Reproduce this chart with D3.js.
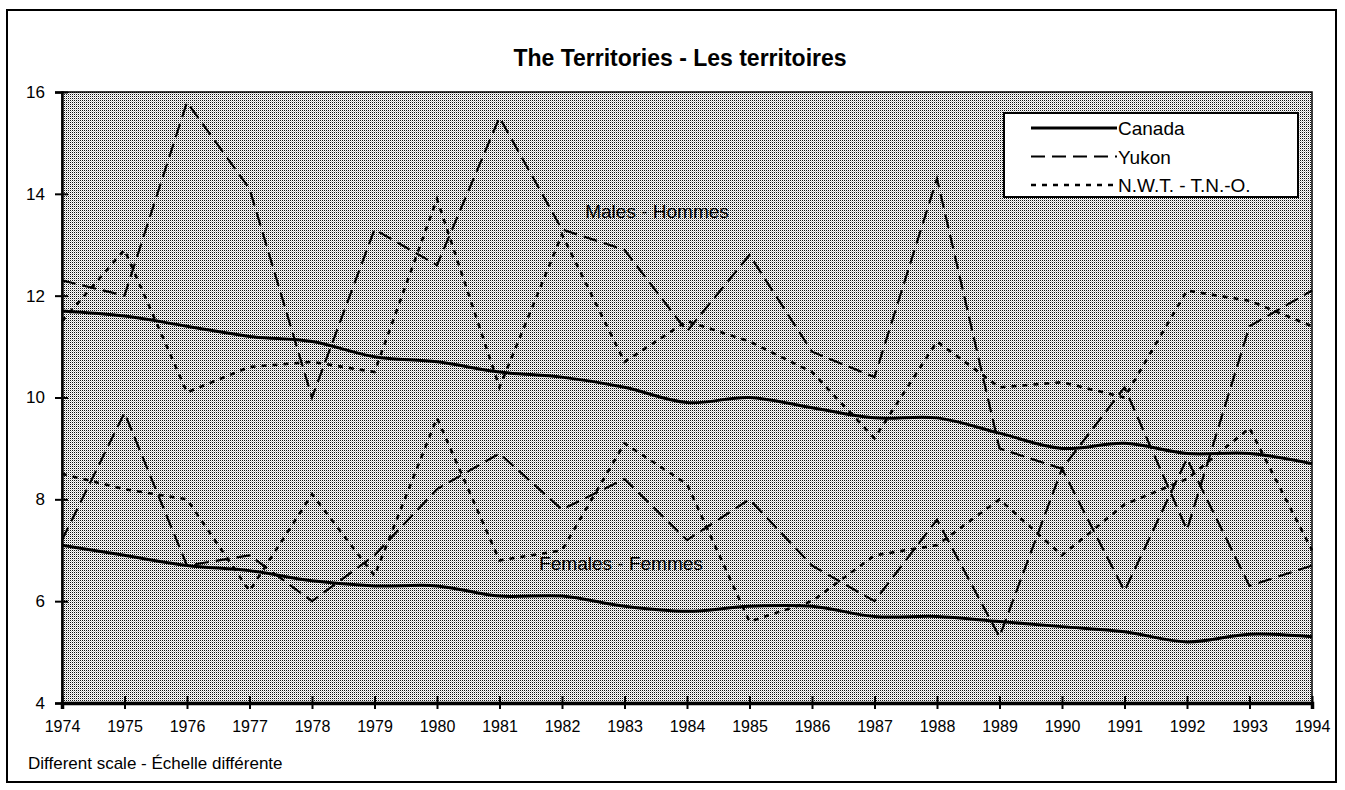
<!DOCTYPE html>
<html>
<head>
<meta charset="utf-8">
<script src="https://cdn.jsdelivr.net/npm/d3@7"></script>
<style>
  body { margin: 0; background: #fff; }
  svg text { font-family: "Liberation Sans", Arial, sans-serif; fill: #000; }
</style>
</head>
<body>
<div id="chart"></div>
<script>
// data
var years = [1974, 1975, 1976, 1977, 1978, 1979, 1980, 1981, 1982, 1983, 1984,
             1985, 1986, 1987, 1988, 1989, 1990, 1991, 1992, 1993, 1994];
var canadaMales   = [11.7, 11.6, 11.4, 11.2, 11.1, 10.8, 10.7, 10.5, 10.4, 10.2, 9.9,
                     10.0, 9.8, 9.6, 9.6, 9.3, 9.0, 9.1, 8.9, 8.9, 8.7];
var yukonMales    = [12.3, 12.0, 15.8, 14.1, 10.0, 13.3, 12.6, 15.5, 13.3, 12.9, 11.3,
                     12.8, 10.9, 10.4, 14.3, 9.0, 8.6, 10.2, 7.4, 11.4, 12.1];
var nwtMales      = [11.5, 12.9, 10.1, 10.6, 10.7, 10.5, 13.9, 10.2, 13.2, 10.7, 11.5,
                     11.1, 10.5, 9.2, 11.1, 10.2, 10.3, 10.0, 12.1, 11.9, 11.4];
var canadaFemales = [7.1, 6.9, 6.7, 6.6, 6.4, 6.3, 6.3, 6.1, 6.1, 5.9, 5.8,
                     5.9, 5.9, 5.7, 5.7, 5.6, 5.5, 5.4, 5.2, 5.35, 5.3];
var yukonFemales  = [7.2, 9.7, 6.7, 6.9, 6.0, 6.9, 8.2, 8.9, 7.8, 8.4, 7.2,
                     8.0, 6.7, 6.0, 7.6, 5.3, 8.6, 6.2, 8.8, 6.3, 6.7];
var nwtFemales    = [8.5, 8.2, 8.0, 6.2, 8.1, 6.5, 9.6, 6.8, 7.0, 9.1, 8.3,
                     5.6, 6.0, 6.9, 7.1, 8.0, 6.9, 7.9, 8.4, 9.4, 7.0];
var yTicks = [4, 6, 8, 10, 12, 14, 16];
var legendNames = ["Canada", "Yukon", "N.W.T. - T.N.-O."];

var W = 1345, H = 790;
var plotL = 62, plotR = 1312, plotT = 92, plotB = 703;

var svg = d3.select("#chart").append("svg")
    .attr("width", W)
    .attr("height", H);

// halftone look of the plot background
var defs = svg.append("defs");
var pat = defs.append("pattern")
    .attr("id", "dots")
    .attr("width", 2).attr("height", 2)
    .attr("patternUnits", "userSpaceOnUse");
pat.append("rect").attr("width", 2).attr("height", 2).attr("fill", "#fff");
pat.append("rect").attr("width", 1).attr("height", 1).attr("fill", "#111");
pat.append("rect").attr("x", 1).attr("y", 1).attr("width", 1).attr("height", 1).attr("fill", "#c4c4c4");

// outer frame
svg.append("rect")
    .attr("x", 7).attr("y", 10)
    .attr("width", 1329).attr("height", 772)
    .attr("fill", "none")
    .attr("stroke", "#000")
    .attr("stroke-width", 2);

var x = d3.scaleLinear().domain([1974, 1994]).range([plotL, plotR]);
var y = d3.scaleLinear().domain([4, 16]).range([plotB, plotT]);

svg.append("rect")
    .attr("x", plotL).attr("y", plotT)
    .attr("width", plotR - plotL).attr("height", plotB - plotT)
    .attr("fill", "url(#dots)")
    .attr("stroke", "#000")
    .attr("stroke-width", 1.5);

// title
svg.append("text")
    .attr("x", 680).attr("y", 66)
    .attr("text-anchor", "middle")
    .style("font-size", "23px")
    .style("font-weight", "bold")
    .text("The Territories - Les territoires");

// Y axis
var ya = d3.axisLeft(y).tickValues(yTicks).tickSize(7).tickPadding(10);
var gy = svg.append("g")
    .attr("transform", "translate(" + plotL + ",0)")
    .call(ya);
gy.select(".domain").attr("stroke-width", 2.5);
gy.selectAll(".tick line").attr("x1", 6).attr("stroke-width", 2);
gy.selectAll(".tick text").style("font-size", "17px");

// X axis
var xa = d3.axisBottom(x).tickValues(years).tickFormat(d3.format("d")).tickSize(6).tickPadding(12);
var gx = svg.append("g")
    .attr("transform", "translate(0," + plotB + ")")
    .call(xa);
gx.select(".domain").attr("stroke-width", 3.5);
gx.selectAll(".tick line").attr("y1", -7).attr("stroke-width", 2);
gx.selectAll(".tick text").style("font-size", "16px");

// series
var series = [
  {v: canadaMales,   dash: null,   w: 3,   curve: d3.curveCatmullRom},
  {v: yukonMales,    dash: "14,7", w: 2.2, curve: d3.curveLinear},
  {v: nwtMales,      dash: "5,6",  w: 2.6, curve: d3.curveLinear},
  {v: canadaFemales, dash: null,   w: 3,   curve: d3.curveCatmullRom},
  {v: yukonFemales,  dash: "14,7", w: 2.2, curve: d3.curveLinear},
  {v: nwtFemales,    dash: "5,6",  w: 2.6, curve: d3.curveLinear}
];

series.forEach(function(s) {
  var line = d3.line()
      .x(function(d, i) { return x(years[i]); })
      .y(function(d) { return y(d); })
      .curve(s.curve);
  svg.append("path")
      .datum(s.v)
      .attr("fill", "none")
      .attr("stroke", "#000")
      .attr("stroke-width", s.w)
      .attr("stroke-dasharray", s.dash)
      .attr("d", line);
});

// in-plot labels
svg.append("text")
    .attr("x", 657).attr("y", 218)
    .attr("text-anchor", "middle")
    .style("font-size", "19px")
    .text("Males - Hommes");
svg.append("text")
    .attr("x", 621).attr("y", 570)
    .attr("text-anchor", "middle")
    .style("font-size", "19px")
    .text("Females - Femmes");

// legend
var lg = svg.append("g");
lg.append("rect")
    .attr("x", 1004).attr("y", 113)
    .attr("width", 294).attr("height", 84)
    .attr("fill", "#fff")
    .attr("stroke", "#000")
    .attr("stroke-width", 2);
var legendStyles = [
  {dash: null, w: 3},
  {dash: "14,7", w: 2.2},
  {dash: "5,6", w: 2.6}
];
legendNames.forEach(function(name, i) {
  var ly = 128 + i * 28.5;
  lg.append("line")
      .attr("x1", 1031).attr("x2", 1117)
      .attr("y1", ly).attr("y2", ly)
      .attr("stroke", "#000")
      .attr("stroke-width", legendStyles[i].w)
      .attr("stroke-dasharray", legendStyles[i].dash);
  lg.append("text")
      .attr("x", 1118).attr("y", ly + 7)
      .style("font-size", "19px")
      .text(name);
});

// footnote
svg.append("text")
    .attr("x", 28).attr("y", 769)
    .style("font-size", "17px")
    .text("Different scale - \u00c9chelle diff\u00e9rente");
</script>
</body>
</html>
